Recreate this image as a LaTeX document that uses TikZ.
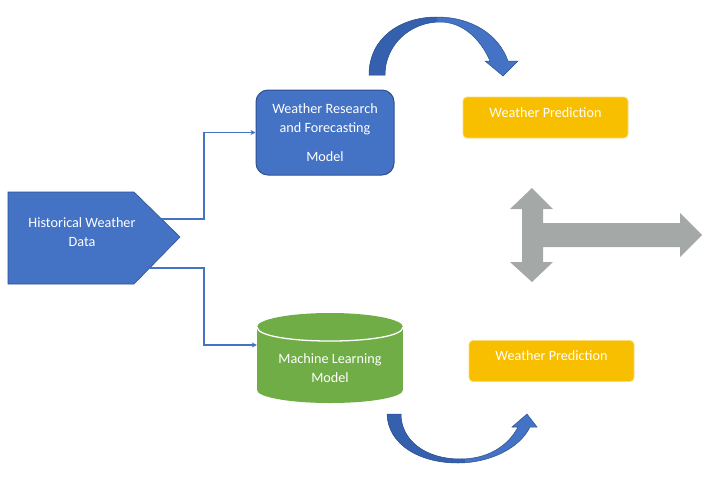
\documentclass[tikz,border=0pt]{standalone}
\usepackage{fontspec}
\setmainfont{Carlito}
\usetikzlibrary{arrows.meta}
\definecolor{mblue}{HTML}{4472C4}
\definecolor{mdark}{HTML}{2F528F}
\definecolor{adark}{HTML}{3560AE}
\definecolor{mgreen}{HTML}{70AD47}
\definecolor{myellow}{HTML}{F8BF00}
\definecolor{mgray}{HTML}{A4A9A8}
\def\TopArrowPath{(369,75) .. controls (369,38) and (400,17) .. (437,17) .. controls (472,17) and (499,35) .. (508,61) -- (518,61) -- (503,76) -- (485,61) -- (490,61) .. controls (480,38) and (462,22) .. (440,22) .. controls (410,22) and (385,45) .. (385,75) -- cycle}
\def\BotArrowPath{(387,414) .. controls (388,445) and (420,463) .. (458,463) .. controls (490,463) and (520,448) .. (530,427) -- (537,427) -- (527,414) -- (512,427) -- (518,427) .. controls (508,446) and (488,459) .. (460,459) .. controls (425,459) and (401,440) .. (401,414) -- cycle}
\begin{document}
\begin{tikzpicture}[x=1pt,y=-1pt,
  txt/.style={text=white, font=\fontsize{14.2}{19}\selectfont, align=center, inner sep=0pt},
  wrfbox/.style={txt, rectangle, rounded corners=12pt, fill=mblue, draw=mdark, line width=1pt, minimum width=138pt, minimum height=85pt},
  ybox/.style={rectangle, rounded corners=4pt, fill=myellow, draw=myellow!55!white, line width=0.8pt, minimum width=165pt, minimum height=41pt, inner sep=0pt},
  conn/.style={draw=mblue, line width=1.2pt, -{Stealth[length=5pt,width=5pt]}}]
\useasboundingbox (0,0) rectangle (721,488);
\fill[white] (0,0) rectangle (721,488);

% Historical weather data (pentagon)
\filldraw[fill=mblue, draw=mdark, line width=0.6pt] (8,192) -- (134,192) -- (180,237) -- (134,284) -- (8,284) -- cycle;
\node[txt] (hw) at (82,232) {Historical Weather\\Data};
\coordinate (hwA) at (162,219);
\coordinate (hwB) at (150,268);

% WRF model
\node[wrfbox] (wrf) at (325,132.5) {Weather Research\\and Forecasting\\[10pt]Model};

% Machine learning cylinder
\fill[mgreen] (257,327) rectangle (403,390);
\fill[mgreen] (330,390) ellipse [x radius=73pt, y radius=13pt];
\fill[mgreen] (330,327) ellipse [x radius=73pt, y radius=14pt];
\draw[white, line width=1.3pt] (257,327) .. controls (257,345.7) and (403,345.7) .. (403,327);
\node[minimum width=146pt, minimum height=90pt, inner sep=0pt] (cyl) at (330,358) {};
\node[txt] (ml) at (330,368) {Machine Learning\\Model};

% connectors
\draw[conn] (hwA) -- ++(42,0) |- (wrf.west);
\draw[conn] (hwB) -- ++(54,0) |- ([yshift=13pt]cyl.west);

% Weather prediction boxes
\node[ybox] (wp1) at (545.5,117.5) {};
\node[txt] (wp1t) at ([yshift=4.5pt]wp1.center) {Weather Prediction};
\node[ybox] (wp2) at (551.5,361) {};
\node[txt] (wp2t) at ([yshift=5pt]wp2.center) {Weather Prediction};

% gray arrow
\fill[mgray] (532,188) -- (553,209) -- (543,209) -- (543,223) -- (680,223) -- (680,213) -- (702,235) -- (680,257) -- (680,247) -- (543,247) -- (543,262) -- (553,262) -- (532,282) -- (510,262) -- (522,262) -- (522,209) -- (510,209) -- cycle;

% curved arrows
\fill[mblue] \TopArrowPath;
\begin{scope}
  \clip (0,0) rectangle (437,100);
  \fill[adark] \TopArrowPath;
\end{scope}
\draw[mdark, line width=0.5pt] \TopArrowPath;

\fill[mblue] \BotArrowPath;
\begin{scope}
  \clip (0,400) rectangle (465,488);
  \fill[adark] \BotArrowPath;
\end{scope}
\draw[mdark, line width=0.5pt] \BotArrowPath;
\end{tikzpicture}
\end{document}
